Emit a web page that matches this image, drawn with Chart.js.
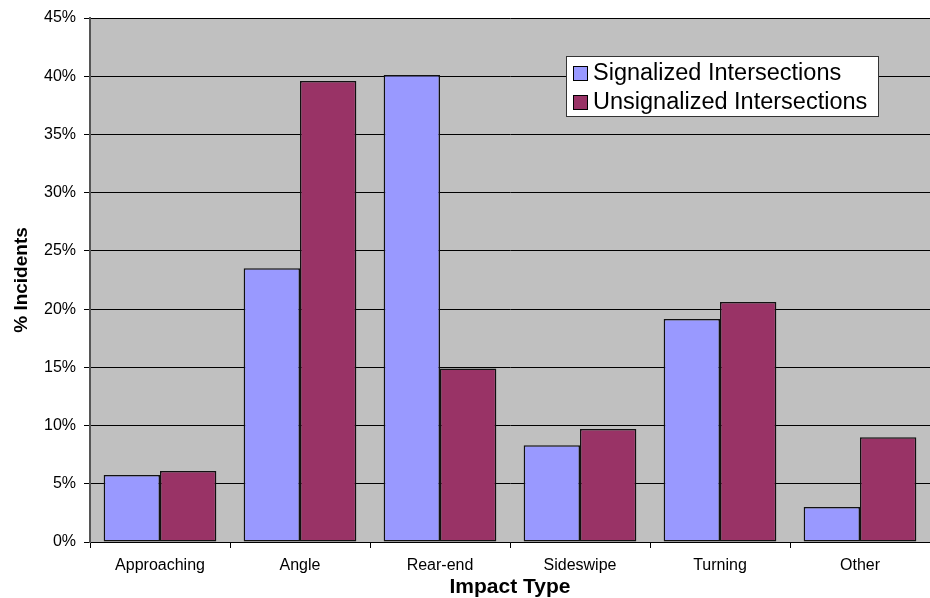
<!DOCTYPE html>
<html>
<head>
<meta charset="utf-8">
<script src="https://cdn.jsdelivr.net/npm/chart.js@4/dist/chart.umd.min.js"></script>
<style>
  html, body { margin: 0; padding: 0; background: #fff; }
  #wrap { width: 930px; height: 598px; }
</style>
</head>
<body>
<div id="wrap"><canvas id="chart" width="930" height="598"></canvas></div>
<script>
const categories = ["Approaching", "Angle", "Rear-end", "Sideswipe", "Turning", "Other"];
const signalized = [5.75, 23.5, 40.1, 8.3, 19.15, 3.0];
const unsignalized = [6.1, 39.6, 14.9, 9.7, 20.6, 9.0];
const yTicks = [0, 5, 10, 15, 20, 25, 30, 35, 40, 45];

const FONT = "'Liberation Sans', Arial, sans-serif";

// grey plot background
const plotBg = {
  id: "plotBg",
  beforeDraw(chart) {
    const { ctx, chartArea: a } = chart;
    ctx.save();
    ctx.fillStyle = "#c0c0c0";
    ctx.fillRect(a.left, a.top, a.right - a.left, a.bottom - a.top);
    ctx.restore();
  }
};

// boxed legend inside the plot
const boxLegend = {
  id: "boxLegend",
  afterDraw(chart) {
    const ctx = chart.ctx;
    const x = 566, y = 56, w = 312, h = 60;
    ctx.save();
    ctx.fillStyle = "#fff";
    ctx.fillRect(x, y, w, h);
    ctx.strokeStyle = "#333";
    ctx.lineWidth = 1;
    ctx.strokeRect(x + 0.5, y + 0.5, w, h);
    ctx.font = "23.5px " + FONT;
    ctx.textBaseline = "middle";
    chart.data.datasets.forEach((ds, i) => {
      const cy = y + 17 + i * 29;
      ctx.fillStyle = ds.backgroundColor;
      ctx.fillRect(x + 7, cy - 7, 14, 14);
      ctx.strokeStyle = "#000";
      ctx.strokeRect(x + 7.5, cy - 6.5, 14, 14);
      ctx.fillStyle = "#000";
      ctx.fillText(ds.label, x + 27, cy + 1);
    });
    ctx.restore();
  }
};

new Chart(document.getElementById("chart"), {
  type: "bar",
  data: {
    labels: categories,
    datasets: [
      {
        label: "Signalized Intersections",
        data: signalized,
        backgroundColor: "#9999ff",
        borderColor: "#111",
        borderWidth: 1.5,
        borderSkipped: false
      },
      {
        label: "Unsignalized Intersections",
        data: unsignalized,
        backgroundColor: "#993366",
        borderColor: "#111",
        borderWidth: 1.5,
        borderSkipped: false
      }
    ]
  },
  options: {
    responsive: false,
    animation: false,
    layout: { padding: { top: 18, right: 0, left: 10, bottom: 0 } },
    datasets: { bar: { categoryPercentage: 0.805, barPercentage: 1 } },
    plugins: {
      legend: { display: false },
      tooltip: { enabled: false }
    },
    scales: {
      x: {
        afterFit: s => { s.height = 56; },
        grid: {
          offset: true,
          drawOnChartArea: false,
          drawTicks: true,
          tickLength: 6,
          color: "#000"
        },
        border: { color: "#000", width: 1 },
        ticks: {
          color: "#000",
          font: { family: FONT, size: 16 },
          padding: 8
        },
        title: {
          display: true,
          text: "Impact Type",
          color: "#000",
          font: { family: FONT, size: 21, weight: "bold", lineHeight: 1 },
          padding: { top: 0, bottom: 0 }
        }
      },
      y: {
        min: 0,
        max: 45,
        afterFit: s => { s.width = 80; },
        afterBuildTicks: s => { s.ticks = yTicks.map(v => ({ value: v })); },
        grid: {
          color: "#000",
          lineWidth: 1,
          drawTicks: true,
          tickLength: 6
        },
        border: { color: "#555", width: 2 },
        ticks: {
          color: "#000",
          font: { family: FONT, size: 16 },
          padding: 8,
          callback: v => v + "%"
        },
        title: {
          display: true,
          text: "% Incidents",
          color: "#000",
          font: { family: FONT, size: 19, weight: "bold" },
          padding: { top: 0, bottom: 4 }
        }
      }
    }
  },
  plugins: [plotBg, boxLegend]
});
</script>
</body>
</html>
